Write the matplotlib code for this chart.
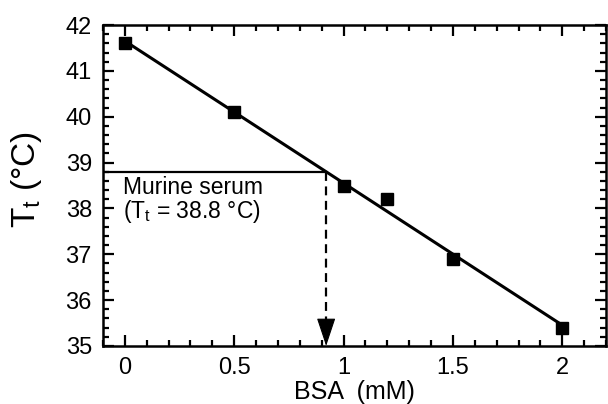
import numpy as np
import matplotlib.pyplot as plt
from matplotlib.ticker import MultipleLocator

plt.rcParams['font.family'] = ['Liberation Sans', 'DejaVu Sans']
plt.rcParams['mathtext.fontset'] = 'custom'
plt.rcParams['mathtext.rm'] = 'Liberation Sans'
plt.rcParams['mathtext.it'] = 'Liberation Sans'

# transition temperature vs BSA concentration
bsa = np.array([0, 0.5, 1.0, 1.2, 1.5, 2.0])
tt = np.array([41.6, 40.1, 38.5, 38.2, 36.9, 35.4])
serum_tt = 38.8

slope, icpt = np.polyfit(bsa, tt, 1)
x_serum = (serum_tt - icpt) / slope

fig = plt.figure(figsize=(6.08, 4.04), dpi=100)
ax = fig.add_axes([0.1694, 0.1436, 0.8273, 0.7944])

xfit = np.array([0, 2])
ax.plot(xfit, slope * xfit + icpt, color='k', lw=2.2, zorder=2)
ax.plot(bsa, tt, 's', color='k', ms=8, zorder=3)

# serum reference: horizontal line + dashed drop arrow
ax.plot([-0.1, x_serum], [serum_tt, serum_tt], color='k', lw=1.6)
ax.plot([x_serum, x_serum], [serum_tt, 35.5], color='k', lw=1.6,
        dashes=(4, 2.5))
ax.annotate('', xy=(x_serum, 35.0), xytext=(x_serum, 35.5),
            arrowprops=dict(arrowstyle='-|>,head_length=0.9,head_width=0.3',
                            color='k', lw=0.8, shrinkA=0, shrinkB=0,
                            mutation_scale=20))
ax.text(-0.01, 38.71, 'Murine serum\n(T$_\\mathregular{t}$ = 38.8 °C)',
        fontsize=16.5, va='top', ha='left', linespacing=0.95)

ax.set_xlim(-0.1, 2.2)
ax.set_ylim(35, 42)
ax.xaxis.set_major_locator(MultipleLocator(0.5))
ax.xaxis.set_minor_locator(MultipleLocator(0.1))
ax.yaxis.set_major_locator(MultipleLocator(1))
ax.yaxis.set_minor_locator(MultipleLocator(0.2))
ax.set_xticks([0, 0.5, 1, 1.5, 2])
ax.set_xticklabels(['0', '0.5', '1', '1.5', '2'])

ax.tick_params(which='both', direction='in', top=True, right=True,
               width=1.6, labelsize=17)
ax.tick_params(which='major', length=8, pad=8)
ax.tick_params(which='minor', length=4)
for s in ax.spines.values():
    s.set_linewidth(1.8)

ax.set_xlabel('BSA  (mM)', fontsize=18)
ax.set_ylabel('T$_\\mathregular{t}$ (°C)', fontsize=24)
ax.xaxis.set_label_coords(0.5, -0.106)
ax.yaxis.set_label_coords(-0.118, 0.52)

fig.savefig('out.png', dpi=100)
